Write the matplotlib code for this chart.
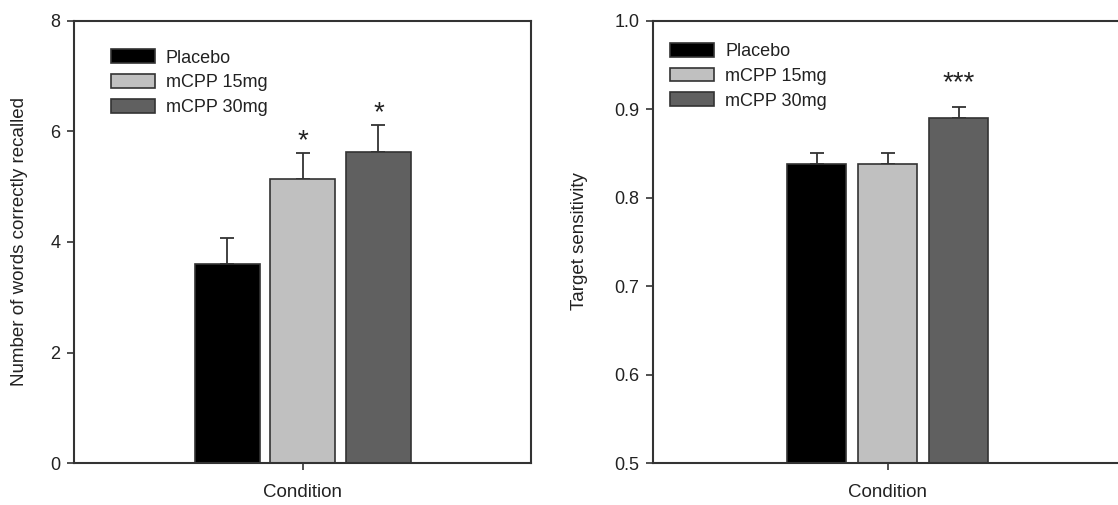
import matplotlib
matplotlib.use("Agg")
import matplotlib.pyplot as plt
from matplotlib.patches import Patch
import numpy as np

plt.rcParams['font.family'] = ['Liberation Sans', 'DejaVu Sans']

conditions = ["Placebo", "mCPP 15mg", "mCPP 30mg"]
colors = ["#000000", "#c0c0c0", "#606060"]

recall_mean = [3.61, 5.13, 5.63]
recall_sem = [0.46, 0.48, 0.48]
recall_stars = ["", "*", "*"]

sens_mean = [0.838, 0.838, 0.890]
sens_sem = [0.012, 0.012, 0.013]
sens_stars = ["", "", "***"]

W, H = 1118, 505
fig = plt.figure(figsize=(W / 100, H / 100), dpi=100)

spine_col = "#333333"
edge_col = "#333333"


def draw(ax, means, sems, stars, ylim, yticks, fmt, offset, width, star_gap, leg_xy):
    n = len(means)
    xs = (np.arange(n) - (n - 1) / 2) * offset
    for x, m, s, c in zip(xs, means, sems, colors):
        ax.bar(x, m, width=width, color=c, edgecolor=edge_col, linewidth=1.2, zorder=2)
        ax.errorbar(x, m, yerr=[[0], [s]], fmt='none', ecolor=edge_col,
                    elinewidth=1.3, capsize=5, capthick=1.3, zorder=1)
    for x, m, s, st in zip(xs, means, sems, stars):
        if st:
            ax.text(x, m + s + star_gap, st, ha='center', va='center', fontsize=20, color='#222222')
    ax.set_xlim(-1, 1)
    ax.set_ylim(*ylim)
    ax.set_yticks(yticks)
    ax.set_yticklabels([fmt.format(t) for t in yticks])
    ax.set_xticks([0])
    ax.set_xticklabels([""])
    ax.tick_params(axis='both', direction='out', length=5, width=1.2, color=spine_col,
                   labelsize=13, pad=5, labelcolor='#222222')
    for sp in ax.spines.values():
        sp.set_color(spine_col)
        sp.set_linewidth(1.5)
    ax.text(0.5, -0.067, "Condition", transform=ax.transAxes, ha='center', va='center',
            fontsize=13.5, color='#222222')
    handles = [Patch(facecolor=c, edgecolor=edge_col, linewidth=1.2) for c in colors]
    ax.legend(handles, conditions, loc='upper left', bbox_to_anchor=leg_xy, frameon=False,
              fontsize=13, handlelength=2.45, handleheight=0.8, handletextpad=0.6,
              labelspacing=0.42, borderpad=0, borderaxespad=0, labelcolor='#222222')


ax1 = fig.add_axes([74.3 / W, (H - 463.3) / H, 457 / W, 442.6 / H])
draw(ax1, recall_mean, recall_sem, recall_stars, (0, 8), [0, 2, 4, 6, 8], "{:g}",
     0.331, 0.284, 0.22, (0.080, 0.935))

ax2 = fig.add_axes([653.3 / W, (H - 463.3) / H, 468.7 / W, 442.6 / H])
draw(ax2, sens_mean, sens_sem, sens_stars, (0.5, 1.0), [0.5, 0.6, 0.7, 0.8, 0.9, 1.0], "{:.1f}",
     0.303, 0.253, 0.026, (0.036, 0.950))

fig.text(20 / W, 1 - 241 / H, "Number of words correctly recalled", rotation=90,
         ha='center', va='center', fontsize=13.5, color='#222222')
fig.text(580 / W, 1 - 241 / H, "Target sensitivity", rotation=90,
         ha='center', va='center', fontsize=13.5, color='#222222')

fig.savefig("out.png", dpi=100)
